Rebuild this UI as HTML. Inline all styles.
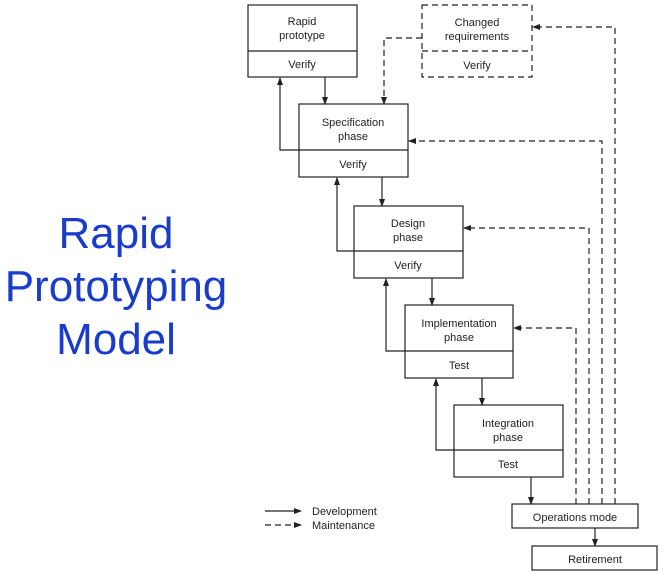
<!DOCTYPE html>
<html><head><meta charset="utf-8"><style>
html,body{margin:0;padding:0;background:#fff;width:664px;height:576px;overflow:hidden}
</style></head><body>
<svg width="664" height="576" xmlns="http://www.w3.org/2000/svg" style="display:block">
<defs>
<marker id="a" markerWidth="8" markerHeight="8" refX="7" refY="4" orient="auto" markerUnits="userSpaceOnUse">
<path d="M0,1 L8,4 L0,7 z" fill="#222"/></marker>
</defs>
<g font-family="Liberation Sans, sans-serif" fill="#1a3ccc" font-size="44" text-anchor="middle">
<text x="116" y="248">Rapid</text>
<text x="116" y="301">Prototyping</text>
<text x="116" y="354">Model</text>
</g>
<g stroke="#222" stroke-width="1.2" fill="none">
<rect x="248" y="5" width="109" height="72"/><line x1="248" y1="51" x2="357" y2="51"/>
<rect x="299" y="104" width="109" height="73"/><line x1="299" y1="150" x2="408" y2="150"/>
<rect x="354" y="206" width="109" height="72"/><line x1="354" y1="251" x2="463" y2="251"/>
<rect x="405" y="305" width="108" height="73"/><line x1="405" y1="351" x2="513" y2="351"/>
<rect x="454" y="405" width="109" height="72"/><line x1="454" y1="450" x2="563" y2="450"/>
<rect x="512" y="504" width="126" height="24"/>
<rect x="532" y="546" width="125" height="24"/>
<g stroke-dasharray="6,4">
<rect x="422" y="5" width="110" height="72"/><line x1="422" y1="51" x2="532" y2="51"/>
</g>
<!-- solid arrows -->
<line x1="325" y1="77" x2="325" y2="104" marker-end="url(#a)"/>
<polyline points="299,150 280,150 280,78" marker-end="url(#a)"/>
<line x1="382" y1="177" x2="382" y2="206" marker-end="url(#a)"/>
<polyline points="354,251 337,251 337,178" marker-end="url(#a)"/>
<line x1="432" y1="278" x2="432" y2="305" marker-end="url(#a)"/>
<polyline points="405,351 386,351 386,279" marker-end="url(#a)"/>
<line x1="482" y1="378" x2="482" y2="405" marker-end="url(#a)"/>
<polyline points="454,450 436,450 436,379" marker-end="url(#a)"/>
<line x1="531" y1="477" x2="531" y2="504" marker-end="url(#a)"/>
<line x1="595" y1="528" x2="595" y2="546" marker-end="url(#a)"/>
<!-- dashed -->
<g stroke-dasharray="6,4">
<polyline points="422,38 384,38 384,104" marker-end="url(#a)"/>
<polyline points="615,504 615,27 533,27" marker-end="url(#a)"/>
<polyline points="602,504 602,141 409,141" marker-end="url(#a)"/>
<polyline points="589,504 589,228 464,228" marker-end="url(#a)"/>
<polyline points="576,504 576,328 514,328" marker-end="url(#a)"/>
<line x1="265" y1="525" x2="301" y2="525" marker-end="url(#a)"/>
</g>
<line x1="265" y1="511" x2="301" y2="511" marker-end="url(#a)"/>
</g>
<g font-family="Liberation Sans, sans-serif" font-size="11" fill="#222" text-anchor="middle">
<text x="302" y="25">Rapid</text><text x="302" y="39">prototype</text><text x="302" y="68">Verify</text>
<text x="477" y="26">Changed</text><text x="477" y="40">requirements</text><text x="477" y="69">Verify</text>
<text x="353" y="126">Specification</text><text x="353" y="140">phase</text><text x="353" y="168">Verify</text>
<text x="408" y="227">Design</text><text x="408" y="241">phase</text><text x="408" y="269">Verify</text>
<text x="459" y="327">Implementation</text><text x="459" y="341">phase</text><text x="459" y="369">Test</text>
<text x="508" y="427">Integration</text><text x="508" y="441">phase</text><text x="508" y="468">Test</text>
<text x="575" y="521">Operations mode</text>
<text x="595" y="563">Retirement</text>
<g text-anchor="start"><text x="312" y="515">Development</text><text x="312" y="529">Maintenance</text></g>
</g>
</svg>
</body></html>
